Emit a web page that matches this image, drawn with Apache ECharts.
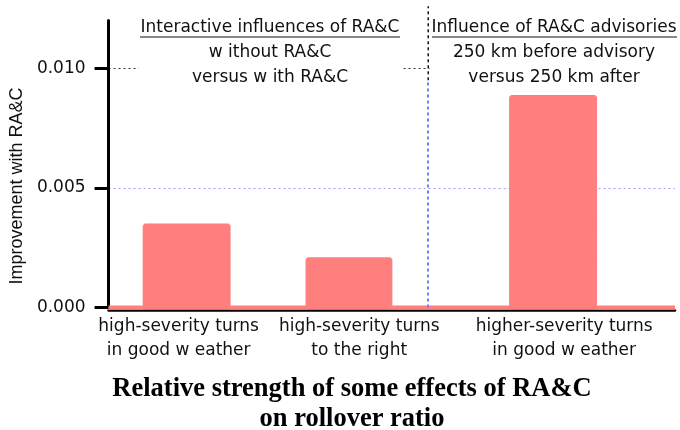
<!DOCTYPE html>
<html>
<head>
    <meta charset="utf-8">
    <script src="https://cdn.jsdelivr.net/npm/echarts@6/dist/echarts.min.js"></script>
</head>
<body style="margin:0">
    <div id="main" style="width:680px;height:430px;"></div>
    <script type="text/javascript">
    // values
    var categories = ['high-severity turns\nin good w eather', 'high-severity turns\nto the right', 'higher-severity turns\nin good w eather'];
    var values = [0.00343, 0.00202, 0.0088];
    // bar extents and label centres on a plain 0..16 horizontal scale
    var barStart = [1.02, 5.62, 11.37];
    var barEnd = [3.39, 7.96, 13.74];
    var labelPos = [1.98, 7.08, 12.87];
    var divider = 9.03;
    var xMax = 16;
    var yTicks = [0, 0.005, 0.010];

    var stepData = [[0, 0]];
    for (var i = 0; i < values.length; i++) {
        stepData.push([barStart[i], values[i]]);
        stepData.push([barEnd[i], 0]);
    }
    stepData.push([xMax, 0]);

    var pink = '#ff7f7f';
    var font = '"DejaVu Sans", "Liberation Sans", Arial, sans-serif';

    myChart = echarts.init(document.getElementById('main'));
    myChart.setOption({
        animation: false,
        title: {
            text: 'Relative strength of some effects of RA&C\non rollover ratio',
            left: 347,
            textAlign: 'center',
            top: 369,
            textStyle: { fontFamily: '"Liberation Serif", "Times New Roman", serif', fontWeight: 'bold', fontSize: 26.5, lineHeight: 30, color: '#000' }
        },
        grid: { left: 108, right: 5, top: 20.5, bottom: 122.5 },
        xAxis: {
            type: 'value', min: 0, max: xMax, offset: 3,
            axisLine: { onZero: false, lineStyle: { color: '#000', width: 2.5 } },
            axisTick: { show: false },
            splitLine: { show: false },
            axisLabel: {
                customValues: labelPos,
                margin: 4,
                fontFamily: font, fontSize: 17, lineHeight: 24, color: '#111',
                formatter: function (v) { return categories[labelPos.indexOf(v)]; }
            }
        },
        yAxis: {
            type: 'value', min: 0, max: 0.012, interval: 0.005,
            name: 'Improvement with RA&C',
            nameLocation: 'middle', nameGap: 77,
            nameTextStyle: { fontFamily: '"Liberation Sans", Arial, sans-serif', fontSize: 18, color: '#111', padding: [0, 44, 0, 0] },
            axisLine: { lineStyle: { color: '#000', width: 3 } },
            axisTick: { customValues: yTicks, length: 14, lineStyle: { color: '#000', width: 3 } },
            axisLabel: {
                customValues: yTicks, margin: 23,
                fontFamily: font, fontSize: 17, color: '#111',
                formatter: function (v) { return v.toFixed(3); }
            },
            splitLine: { show: true, lineStyle: { color: ['transparent', '#9a9aff', '#333', 'transparent'], type: [2, 3], width: 1 } }
        },
        graphic: [
            {
                id: 'leftNote', type: 'text', x: 270, y: 15.5, z: 1,
                style: {
                    text: 'Interactive influences of RA&C\nw ithout RA&C\nversus w ith RA&C',
                    font: '17px ' + font, fill: '#111', align: 'center', verticalAlign: 'top',
                    lineHeight: 25, backgroundColor: '#fff', padding: [0, 2]
                }
            },
            {
                id: 'rightNote', type: 'text', x: 554, y: 15.5, z: 1,
                style: {
                    text: 'Influence of RA&C advisories\n250 km before advisory\nversus 250 km after',
                    font: '17px ' + font, fill: '#111', align: 'center', verticalAlign: 'top',
                    lineHeight: 25, backgroundColor: '#fff', padding: [0, 2]
                }
            },
            { id: 'leftLine', type: 'line', z: 1, shape: { x1: 140, y1: 37, x2: 400, y2: 37 }, style: { stroke: '#111', lineWidth: 1.2 } },
            { id: 'rightLine', type: 'line', z: 1, shape: { x1: 432, y1: 37, x2: 677, y2: 37 }, style: { stroke: '#111', lineWidth: 1.2 } }
        ],
        series: [
            {
                type: 'line',
                step: 'end',
                data: stepData,
                symbol: 'none',
                clip: false,
                lineStyle: { color: pink, width: 4 },
                areaStyle: { color: pink, opacity: 1, origin: -0.00009 },
                markLine: {
                    silent: true,
                    symbol: 'none',
                    label: { show: false },
                    data: [
                        [{ coord: [divider, 0], lineStyle: { color: '#6f7fff', type: [3, 3], width: 2 } }, { coord: [divider, 0.0095] }]
                    ]
                }
            }
        ]
    });

    // black upper part of the divider runs above the plot top
    var p1 = myChart.convertToPixel({ gridIndex: 0 }, [divider, 0.0095]);
    var p2 = myChart.convertToPixel({ gridIndex: 0 }, [divider, 0.0126]);
    myChart.setOption({
        graphic: [
            {
                id: 'dividerTop', type: 'line', z: 3,
                shape: { x1: p1[0], y1: p1[1], x2: p2[0], y2: p2[1] },
                style: { stroke: '#111', lineWidth: 1.5, lineDash: [3, 3] }
            }
        ]
    });
    </script>
</body>
</html>
